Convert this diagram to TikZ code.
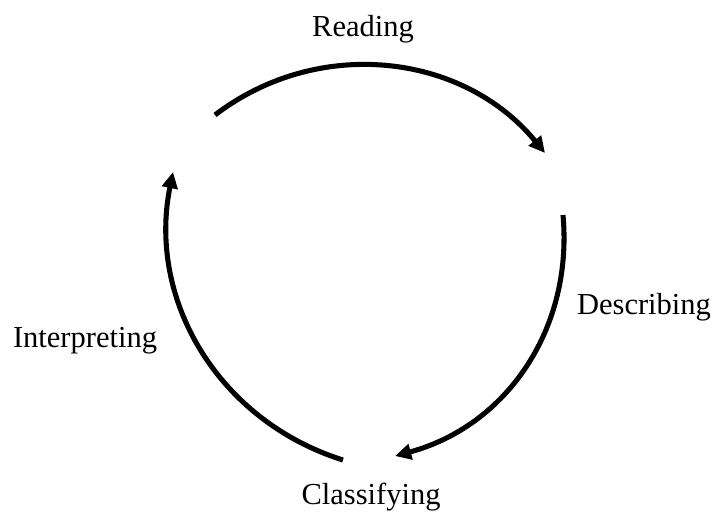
\documentclass[tikz,border=0pt]{standalone}
\usepackage{fontspec}
\setmainfont{Liberation Serif}
\usetikzlibrary{arrows.meta}

\begin{document}
\begin{tikzpicture}[
            every node/.style={
            inner sep=0pt, text centered, font=\fontsize{21.7}{26}\selectfont}
        ]
        \tikzstyle {cycle_arc} = [line width=3.6pt, -{Triangle[length=11.5pt, width=11pt]}]

        \useasboundingbox (0,0) rectangle (17.85,-13.025);

        \node (read) at (9.075,-0.72) {Reading};
        \node (desc) at (16.1,-7.675) {Describing};
        \node (interp) at (2.125,-8.525) {Interpreting};
        \node (class) at (9.275,-12.43) {Classifying};

        \coordinate (top_a) at (5.375,-2.875);
        \coordinate (top_b) at (13.625,-3.825);
        \coordinate (right_a) at (14.075,-5.375);
        \coordinate (right_b) at (9.875,-11.4);
        \coordinate (left_a) at (8.575,-11.5);
        \coordinate (left_b) at (4.325,-4.3);

        \draw [cycle_arc] (top_a) to[bend left=44] (top_b);
        \draw [cycle_arc] (right_a) to[bend left=40] (right_b);
        \draw [cycle_arc] (left_a) to[bend left=42] (left_b);

        \end{tikzpicture}
\end{document}
